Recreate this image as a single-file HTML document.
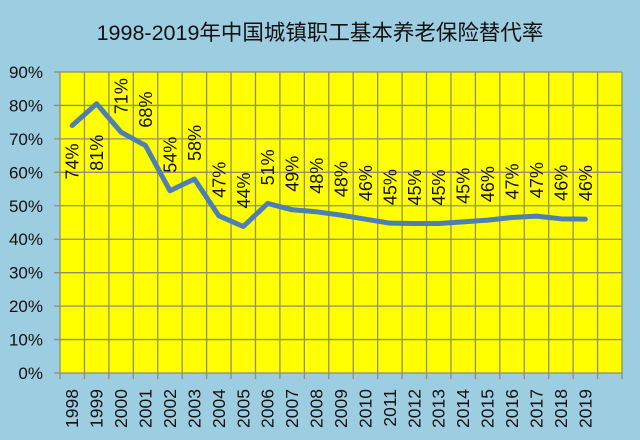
<!DOCTYPE html>
<html><head><meta charset="utf-8"><style>
body{margin:0;background:#9dcde0;}
svg{display:block;}
text{font-family:"Liberation Sans","Noto Sans CJK SC",sans-serif;fill:#111;}
</style></head><body>
<svg id="c" width="640" height="440">
<rect width="640" height="440" fill="#9dcde0"/>
<text x="320" y="40" text-anchor="middle" font-size="21.5">1998-2019年中国城镇职工基本养老保险替代率</text>
</svg>
<script>
const years=["1998","1999","2000","2001","2002","2003","2004","2005","2006","2007","2008","2009","2010","2011","2012","2013","2014","2015","2016","2017","2018","2019"];
const values=[74,80.5,72,68,54.5,58,47,43.8,50.7,48.8,48.2,47.2,46,44.8,44.7,44.7,45.2,45.7,46.5,46.9,46.1,46];
const labels=["74%","81%","71%","68%","54%","58%","47%","44%","51%","49%","48%","48%","46%","45%","45%","45%","45%","46%","47%","47%","46%","46%"];
const yTicks=[0,10,20,30,40,50,60,70,80,90];
const svg=document.getElementById('c');const NS='http://www.w3.org/2000/svg';
const L=60,R=622,T=72,B=373,ncol=years.length+1,cw=(R-L)/ncol;
const x=i=>L+(i+0.5)*cw, y=v=>B-(v/90)*(B-T);
function mk(t,a,p){const e=document.createElementNS(NS,t);for(const k in a)e.setAttribute(k,a[k]);(p||svg).appendChild(e);return e;}
const plot=mk('rect',{x:L,y:T,width:R-L,height:B-T,fill:'#ffff00'});


for(let i=0;i<=ncol;i++){const g=mk('line',{x1:L+i*cw,x2:L+i*cw,y1:T,y2:B+6,stroke:'#8f8f70','stroke-width':1.3});

}
yTicks.forEach(v=>{const g=mk('line',{x1:L-6,x2:R,y1:y(v),y2:y(v),stroke:'#8f8f70','stroke-width':1.3});


const t=mk('text',{x:43,y:y(v)+6,'text-anchor':'end','font-size':17});t.textContent=v+'%';

});
years.forEach((yr,i)=>{const t=mk('text',{transform:`translate(${x(i)+6},389) rotate(-90)`,'text-anchor':'end','font-size':17.5});t.textContent=yr;

});
const line=mk('polyline',{points:values.map((v,i)=>x(i)+','+y(v)).join(' '),fill:'none',stroke:'#4e7fb3','stroke-width':5,'stroke-linejoin':'round','stroke-linecap':'round'});


labels.forEach((lb,i)=>{const below=i<2;const py=y(values[i]);
const t=mk('text',{transform:`translate(${x(i)+6.5},${below?py+(i==1?31:18):py-18}) rotate(-90)`,'text-anchor':below?'end':'start','font-size':18});t.textContent=lb;

});
</script>
</body></html>
